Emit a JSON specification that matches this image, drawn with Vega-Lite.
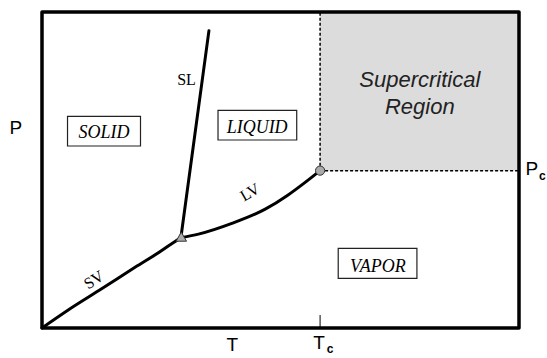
{
  "$schema": "https://vega.github.io/schema/vega-lite/v6.json",
  "width": 477,
  "height": 316,
  "autosize": {"type": "none"},
  "padding": {"left": 42, "top": 12, "right": 28, "bottom": 30},
  "background": "white",
  "config": {"view": {"stroke": null}},
  "datasets": {
    "curves": [
      {"curve": "SV", "i": 0, "T": 0, "P": 0},
      {"curve": "SV", "i": 1, "T": 5.5, "P": 5.7},
      {"curve": "SV", "i": 2, "T": 12.5, "P": 12.4},
      {"curve": "SV", "i": 3, "T": 19.5, "P": 19.2},
      {"curve": "SV", "i": 4, "T": 25.1, "P": 24.5},
      {"curve": "SV", "i": 5, "T": 27.5, "P": 27.0},
      {"curve": "SV", "i": 6, "T": 29.2, "P": 28.6},
      {"curve": "LV", "i": 0, "T": 29.2, "P": 28.6},
      {"curve": "LV", "i": 1, "T": 32.8, "P": 29.7},
      {"curve": "LV", "i": 2, "T": 39.8, "P": 33.1},
      {"curve": "LV", "i": 3, "T": 46.8, "P": 37.6},
      {"curve": "LV", "i": 4, "T": 51.6, "P": 42.1},
      {"curve": "LV", "i": 5, "T": 55.1, "P": 46.0},
      {"curve": "LV", "i": 6, "T": 58.3, "P": 49.8},
      {"curve": "SL", "i": 0, "T": 29.2, "P": 29.5},
      {"curve": "SL", "i": 1, "T": 35.0, "P": 94.1}
    ],
    "supercritical": [{"T1": 58.3, "T2": 100, "P1": 49.8, "P2": 100}],
    "dashes": [
      {"T1": 58.3, "P1": 49.8, "T2": 58.3, "P2": 100},
      {"T1": 58.3, "P1": 49.8, "T2": 100, "P2": 49.8}
    ],
    "tick": [{"T1": 58.3, "P1": 0, "T2": 58.3, "P2": 4.1}],
    "boxes": [
      {"phase": "SOLID", "T1": 5.35, "T2": 20.65, "P1": 57.6, "P2": 67.0, "Tm": 13.0, "Pb": 60.0},
      {"phase": "LIQUID", "T1": 36.9, "T2": 53.4, "P1": 59.5, "P2": 68.9, "Tm": 45.1, "Pb": 61.6},
      {"phase": "VAPOR", "T1": 62.1, "T2": 78.6, "P1": 15.7, "P2": 25.2, "Tm": 70.4, "Pb": 17.6}
    ],
    "triple": [{"T": 29.2, "P": 28.9}],
    "critical": [{"T": 58.3, "P": 49.8}],
    "frame": [{"T1": 0, "T2": 100, "P1": 0, "P2": 100}]
  },
  "encoding": {},
  "layer": [
    {
      "data": {"name": "supercritical"},
      "mark": {"type": "rect", "fill": "#dcdcdc"},
      "encoding": {
        "x": {"field": "T1", "type": "quantitative", "scale": {"domain": [0, 100], "nice": false, "zero": false}, "axis": null},
        "x2": {"field": "T2"},
        "y": {"field": "P1", "type": "quantitative", "scale": {"domain": [0, 100], "nice": false, "zero": false}, "axis": null},
        "y2": {"field": "P2"}
      }
    },
    {
      "data": {"name": "dashes"},
      "mark": {"type": "rule", "color": "black", "strokeWidth": 1.5, "strokeDash": [3, 2]},
      "encoding": {
        "x": {"field": "T1", "type": "quantitative"},
        "x2": {"field": "T2"},
        "y": {"field": "P1", "type": "quantitative"},
        "y2": {"field": "P2"}
      }
    },
    {
      "data": {"name": "tick"},
      "mark": {"type": "rule", "color": "black", "strokeWidth": 1},
      "encoding": {
        "x": {"field": "T1", "type": "quantitative"},
        "x2": {"field": "T2"},
        "y": {"field": "P1", "type": "quantitative"},
        "y2": {"field": "P2"}
      }
    },
    {
      "data": {"name": "curves"},
      "mark": {"type": "line", "color": "black", "strokeWidth": 3, "interpolate": "monotone", "strokeCap": "round"},
      "encoding": {
        "x": {"field": "T", "type": "quantitative"},
        "y": {"field": "P", "type": "quantitative"},
        "detail": {"field": "curve"},
        "order": {"field": "i"}
      }
    },
    {
      "data": {"name": "boxes"},
      "mark": {"type": "rect", "fill": "white", "stroke": "#222", "strokeWidth": 1.2},
      "encoding": {
        "x": {"field": "T1", "type": "quantitative"},
        "x2": {"field": "T2"},
        "y": {"field": "P1", "type": "quantitative"},
        "y2": {"field": "P2"}
      }
    },
    {
      "data": {"name": "boxes"},
      "mark": {"type": "text", "font": "Liberation Serif", "fontStyle": "italic", "fontSize": 18, "align": "center", "baseline": "alphabetic", "color": "black"},
      "encoding": {
        "x": {"field": "Tm", "type": "quantitative"},
        "y": {"field": "Pb", "type": "quantitative"},
        "text": {"field": "phase"}
      }
    },
    {
      "data": {"name": "triple"},
      "mark": {"type": "point", "shape": "triangle-up", "size": 110, "filled": true, "fill": "#aaaaaa", "stroke": "#333", "strokeWidth": 1, "opacity": 1},
      "encoding": {
        "x": {"field": "T", "type": "quantitative"},
        "y": {"field": "P", "type": "quantitative"}
      }
    },
    {
      "data": {"name": "critical"},
      "mark": {"type": "point", "shape": "circle", "size": 85, "filled": true, "fill": "#aaaaaa", "stroke": "#333", "strokeWidth": 1, "opacity": 1},
      "encoding": {
        "x": {"field": "T", "type": "quantitative"},
        "y": {"field": "P", "type": "quantitative"}
      }
    },
    {
      "data": {"name": "frame"},
      "mark": {"type": "rect", "filled": false, "fill": null, "stroke": "black", "strokeWidth": 3.5, "strokeJoin": "round"},
      "encoding": {
        "x": {"field": "T1", "type": "quantitative"},
        "x2": {"field": "T2"},
        "y": {"field": "P1", "type": "quantitative"},
        "y2": {"field": "P2"}
      }
    },
    {
      "data": {"values": [{"label": "SL", "T": 30.3, "P": 76.9}]},
      "mark": {"type": "text", "font": "Liberation Serif", "fontSize": 16, "align": "center", "baseline": "alphabetic", "color": "black"},
      "encoding": {
        "x": {"field": "T", "type": "quantitative"},
        "y": {"field": "P", "type": "quantitative"},
        "text": {"field": "label"}
      }
    },
    {
      "data": {"values": [{"label": "SV", "T": 10.9, "P": 15.2}]},
      "mark": {"type": "text", "font": "Liberation Serif", "fontSize": 16, "align": "center", "baseline": "middle", "angle": -33, "color": "black"},
      "encoding": {
        "x": {"field": "T", "type": "quantitative"},
        "y": {"field": "P", "type": "quantitative"},
        "text": {"field": "label"}
      }
    },
    {
      "data": {"values": [{"label": "LV", "T": 43.6, "P": 42.9}]},
      "mark": {"type": "text", "font": "Liberation Serif", "fontSize": 16, "align": "center", "baseline": "middle", "angle": -30, "color": "black"},
      "encoding": {
        "x": {"field": "T", "type": "quantitative"},
        "y": {"field": "P", "type": "quantitative"},
        "text": {"field": "label"}
      }
    },
    {
      "data": {"values": [{"label": "Supercritical", "T": 79.2, "P": 76.2}, {"label": "Region", "T": 79.2, "P": 67.7}]},
      "mark": {"type": "text", "font": "Liberation Sans", "fontStyle": "italic", "fontSize": 22, "align": "center", "baseline": "alphabetic", "color": "#222"},
      "encoding": {
        "x": {"field": "T", "type": "quantitative"},
        "y": {"field": "P", "type": "quantitative"},
        "text": {"field": "label"}
      }
    },
    {
      "data": {"values": [{"label": "P", "T": -5.5, "P": 61.4}, {"label": "T", "T": 39.9, "P": -7.4}, {"label": "T", "T": 58.1, "P": -6.7}, {"label": "P", "T": 102.7, "P": 48.4}]},
      "mark": {"type": "text", "font": "Liberation Sans", "fontSize": 19, "align": "center", "baseline": "alphabetic", "color": "black"},
      "encoding": {
        "x": {"field": "T", "type": "quantitative"},
        "y": {"field": "P", "type": "quantitative"},
        "text": {"field": "label"}
      }
    },
    {
      "data": {"values": [{"label": "c", "T": 60.4, "P": -8.0}, {"label": "c", "T": 104.9, "P": 46.8}]},
      "mark": {"type": "text", "font": "Liberation Sans", "fontSize": 12, "fontWeight": "bold", "align": "center", "baseline": "alphabetic", "color": "black"},
      "encoding": {
        "x": {"field": "T", "type": "quantitative"},
        "y": {"field": "P", "type": "quantitative"},
        "text": {"field": "label"}
      }
    }
  ]
}
